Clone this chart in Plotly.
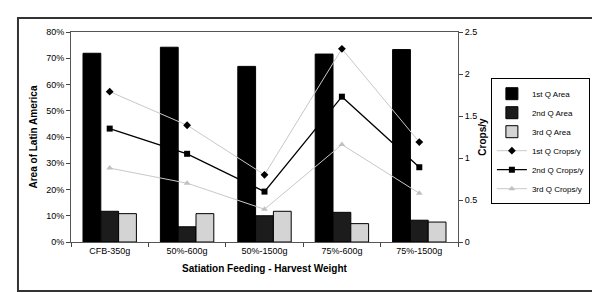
import plotly.graph_objects as go

categories = ['CFB-350g', '50%-600g', '50%-1500g', '75%-600g', '75%-1500g']

area_1st = [0.719, 0.742, 0.669, 0.716, 0.733]
area_2nd = [0.117, 0.058, 0.100, 0.113, 0.083]
area_3rd = [0.108, 0.108, 0.117, 0.070, 0.076]

crops_1st = [1.79, 1.39, 0.80, 2.30, 1.19]
crops_2nd = [1.35, 1.05, 0.60, 1.73, 0.89]
crops_3rd = [0.88, 0.70, 0.39, 1.16, 0.58]

FONT = 'Liberation Sans, Arial, sans-serif'

fig = go.Figure()

fig.add_trace(go.Bar(
    name='1st Q Area', x=categories, y=area_1st,
    marker=dict(color='#000000', line=dict(color='#000000', width=1)),
))
fig.add_trace(go.Bar(
    name='2nd Q Area', x=categories, y=area_2nd,
    marker=dict(color='#1c1c1c', line=dict(color='#000000', width=1)),
))
fig.add_trace(go.Bar(
    name='3rd Q Area', x=categories, y=area_3rd,
    marker=dict(color='#d4d4d4', line=dict(color='#000000', width=1)),
))

fig.add_trace(go.Scatter(
    name='1st Q Crops/y', x=categories, y=crops_1st, yaxis='y2',
    mode='lines+markers',
    line=dict(color='#c8c8c8', width=1),
    marker=dict(symbol='diamond', size=6, color='#000000'),
))
fig.add_trace(go.Scatter(
    name='2nd Q Crops/y', x=categories, y=crops_2nd, yaxis='y2',
    mode='lines+markers',
    line=dict(color='#000000', width=1.3),
    marker=dict(symbol='square', size=6, color='#000000'),
))
fig.add_trace(go.Scatter(
    name='3rd Q Crops/y', x=categories, y=crops_3rd, yaxis='y2',
    mode='lines+markers',
    line=dict(color='#c8c8c8', width=1),
    marker=dict(symbol='triangle-up', size=6, color='#c0c0c0'),
))

fig.update_layout(
    width=600,
    height=293,
    margin=dict(l=63, r=150, t=24, b=59),
    paper_bgcolor='white',
    plot_bgcolor='white',
    font=dict(family=FONT, size=9, color='#000000'),
    barmode='group',
    bargap=0.31,
    bargroupgap=0,
    showlegend=True,
    legend=dict(
        x=1.085, y=0.78, xanchor='left', yanchor='top',
        bordercolor='#000000', borderwidth=1,
        font=dict(size=8, family=FONT),
        tracegroupgap=0, itemwidth=30,
    ),
    xaxis=dict(
        tickson='boundaries', ticks='outside', ticklen=4, tickcolor='#444',
        showline=True, linecolor='#555', linewidth=1, mirror=True,
        title=dict(text='<b>Satiation Feeding - Harvest Weight</b>', standoff=10,
                   font=dict(size=10)),
        tickfont=dict(size=9),
    ),
    yaxis=dict(
        range=[0, 0.8], dtick=0.1, tickformat='.0%',
        ticks='outside', ticklen=4, tickcolor='#444',
        showline=True, linecolor='#555', linewidth=1, mirror=True,
        showgrid=False, zeroline=False,
        title=dict(text='<b>Area of Latin America</b>', standoff=6,
                   font=dict(size=10)),
    ),
    yaxis2=dict(
        overlaying='y', side='right',
        range=[0, 2.5], dtick=0.5,
        ticks='outside', ticklen=4, tickcolor='#444',
        showline=True, linecolor='#555', linewidth=1,
        showgrid=False, zeroline=False,
        title=dict(text='<b>Crops/y</b>', standoff=2, font=dict(size=10)),
    ),
    shapes=[dict(
        type='rect', xref='paper', yref='paper',
        x0=-0.137, x1=1.364, y0=-0.233, y1=1.067,
        line=dict(color='#333333', width=2),
    )],
)

fig.write_html('out.html')
